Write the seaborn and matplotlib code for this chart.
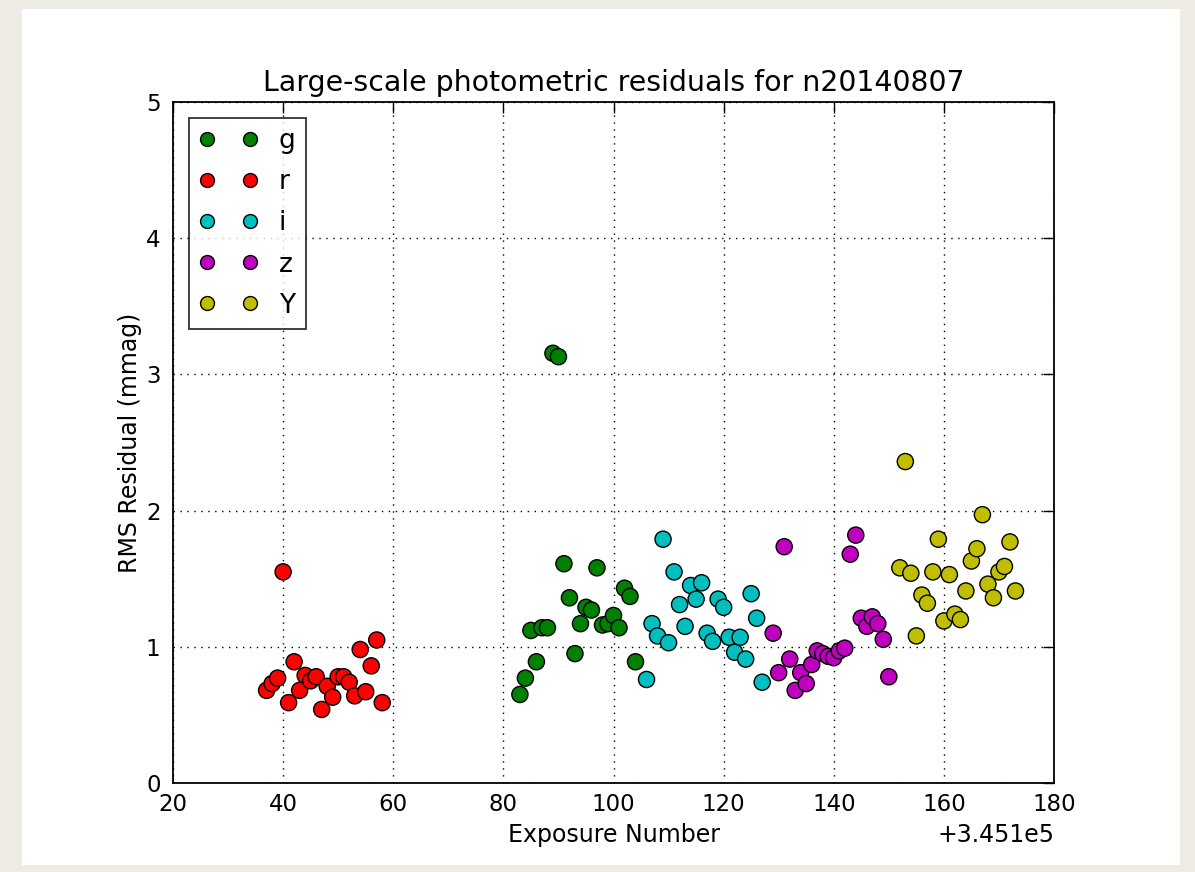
import numpy as np
import pandas as pd
import matplotlib
matplotlib.use("Agg")
import matplotlib.pyplot as plt
from matplotlib.lines import Line2D
from matplotlib.patches import Rectangle
from matplotlib.ticker import ScalarFormatter
import seaborn as sns

OFFSET = 345100

g_x = list(range(83, 105))
g_y = [0.65, 0.77, 1.12, 0.89, 1.14, 1.14, 3.155, 3.13, 1.61, 1.36, 0.95, 1.17,
       1.29, 1.27, 1.58, 1.16, 1.17, 1.23, 1.14, 1.43, 1.37, 0.89]
r_x = list(range(37, 59))
r_y = [0.68, 0.73, 0.77, 1.55, 0.59, 0.89, 0.68, 0.79, 0.75, 0.78, 0.54, 0.71,
       0.63, 0.78, 0.78, 0.74, 0.64, 0.98, 0.67, 0.86, 1.05, 0.59]
i_x = list(range(106, 128))
i_y = [0.76, 1.17, 1.08, 1.79, 1.03, 1.55, 1.31, 1.15, 1.45, 1.35, 1.47, 1.10,
       1.04, 1.35, 1.29, 1.07, 0.96, 1.07, 0.91, 1.39, 1.21, 0.74]
z_x = list(range(129, 151))
z_y = [1.10, 0.81, 1.735, 0.91, 0.68, 0.81, 0.73, 0.87, 0.97, 0.95, 0.93, 0.92,
       0.97, 0.99, 1.68, 1.82, 1.21, 1.15, 1.22, 1.17, 1.055, 0.78]
Y_x = list(range(152, 174))
Y_y = [1.58, 2.36, 1.54, 1.08, 1.38, 1.32, 1.55, 1.79, 1.19, 1.53, 1.24, 1.20,
       1.41, 1.63, 1.72, 1.97, 1.46, 1.36, 1.55, 1.59, 1.77, 1.41]

bands = ["g", "r", "i", "z", "Y"]
band_colors = {"g": (0, 0.5, 0), "r": (1, 0, 0), "i": (0, 0.75, 0.75),
               "z": (0.75, 0, 0.75), "Y": (0.75, 0.75, 0)}

xs = {"g": g_x, "r": r_x, "i": i_x, "z": z_x, "Y": Y_x}
ys = {"g": g_y, "r": r_y, "i": i_y, "z": z_y, "Y": Y_y}
df = pd.concat([pd.DataFrame({"exposure": np.array(xs[b]) + OFFSET,
                              "rms": ys[b], "band": b}) for b in bands],
               ignore_index=True)

sns.set_style("white")
plt.rcParams["font.family"] = ["DejaVu Sans"]
plt.rcParams["text.color"] = "black"
plt.rcParams["axes.labelcolor"] = "black"

fig = plt.figure(figsize=(11.95, 8.72), dpi=100, facecolor="#eeebe4")
bg = fig.add_axes([0, 0, 1, 1], zorder=-10)
bg.set_axis_off()
bg.set_xlim(0, 1195)
bg.set_ylim(872, 0)
bg.add_patch(Rectangle((22, 9), 1180 - 22, 865 - 9, facecolor="white", edgecolor="none"))

ax = fig.add_axes([173 / 1195, 1 - 783 / 872, (1054 - 173) / 1195, (783 - 102) / 872])
ax.set_facecolor("white")

sns.scatterplot(data=df, x="exposure", y="rms", hue="band", palette=band_colors,
                hue_order=bands, s=135, edgecolor="black", linewidth=1,
                legend=False, ax=ax, zorder=3)

ax.set_xlim(20 + OFFSET, 180 + OFFSET)
ax.set_ylim(0, 5)
ax.set_xticks(np.arange(20, 181, 20) + OFFSET)
ax.set_yticks([0, 1, 2, 3, 4, 5])
fmt = ScalarFormatter(useOffset=OFFSET)
ax.xaxis.set_major_formatter(fmt)
ax.xaxis.get_offset_text().set_visible(False)
ax.text(1.0, -0.077, "+3.451e5", transform=ax.transAxes, ha="right", va="center",
        fontsize=17, color="black")

ax.grid(True, color="black", linestyle=(0, (1, 4)), linewidth=1)
ax.set_axisbelow(True)
for sp in ax.spines.values():
    sp.set_color("black")
    sp.set_linewidth(1.3)
ax.tick_params(direction="in", length=8, width=1, top=True, right=True,
               labelsize=16.5, colors="black")
ax.tick_params(axis="x", pad=7)
ax.tick_params(axis="y", pad=9)

ax.set_title("Large-scale photometric residuals for n20140807", fontsize=20.4,
             pad=8, color="black")
ax.set_xlabel("Exposure Number", fontsize=17, labelpad=5)
ax.set_ylabel("RMS Residual (mmag)", fontsize=17, labelpad=3)

handles = [Line2D([0], [0], marker="o", color="none", markerfacecolor=band_colors[b],
                  markeredgecolor="black", markersize=10, linestyle="none")
           for b in bands]
leg = ax.legend(handles, bands, loc="upper left", numpoints=2, fontsize=19,
                frameon=True, fancybox=False, borderaxespad=0.6,
                handlelength=2.2, labelspacing=0.57, borderpad=0.4)
leg.get_frame().set_edgecolor("black")
leg.get_frame().set_linewidth(1.3)

fig.savefig("out.png", dpi=100, facecolor=fig.get_facecolor())
